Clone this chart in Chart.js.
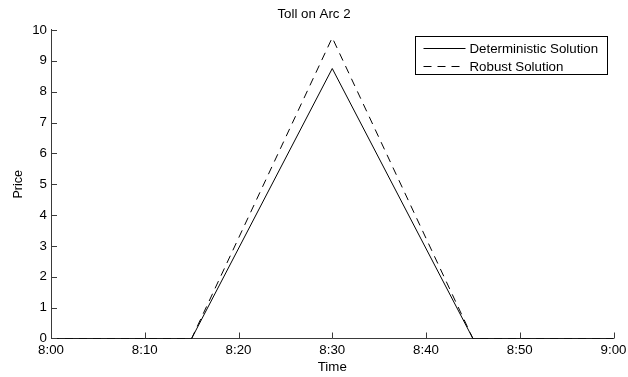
<!DOCTYPE html>
<html>
<head>
<meta charset="utf-8">
<script src="https://cdn.jsdelivr.net/npm/chart.js@4.4.1/dist/chart.umd.min.js"></script>
<style>
html,body{margin:0;padding:0;background:#fff;}
#c{display:block;}
</style>
</head>
<body>
<canvas id="c" width="628" height="377"></canvas>
<script>
// Data (minutes after 8:00)
const times = [0, 15, 30, 45, 60];
const deterministic = [0, 0, 8.75, 0, 0];
const robust = [0, 0, 9.75, 0, 0];
const xTickLabels = ['8:00', '8:10', '8:20', '8:30', '8:40', '8:50', '9:00'];
const seriesNames = ['Deterministic Solution', 'Robust Solution'];
const chartTitle = 'Toll on Arc 2';
const xTitle = 'Time';
const yTitle = 'Price';

const FONT = '"Liberation Sans", Arial, Helvetica, sans-serif';
const NARROW = '"Liberation Sans Narrow", "Liberation Sans", Arial, sans-serif';
const FS = 13.3;
const AXIS = '#3a3a3a';
const DASH = [8, 6];

const toXY = (vals) => times.map((t, i) => ({x: t, y: vals[i]}));

const inwardTicks = {
  id: 'inwardTicks',
  afterDatasetsDraw(chart) {
    const {ctx, chartArea, scales} = chart;
    const L = 6;
    ctx.save();
    ctx.strokeStyle = AXIS;
    ctx.lineWidth = 1;
    ctx.beginPath();
    scales.x.ticks.forEach(t => {
      const px = Math.round(scales.x.getPixelForValue(t.value)) + 0.5;
      ctx.moveTo(px, chartArea.bottom);
      ctx.lineTo(px, chartArea.bottom - L);
    });
    scales.y.ticks.forEach(t => {
      const py = Math.round(scales.y.getPixelForValue(t.value)) + 0.5;
      ctx.moveTo(chartArea.left, py);
      ctx.lineTo(chartArea.left + L, py);
    });
    ctx.stroke();
    ctx.restore();
  }
};

const boxLegend = {
  id: 'boxLegend',
  afterDraw(chart) {
    const {ctx, chartArea} = chart;
    const w = 192, h = 38;
    const x0 = Math.round(chartArea.right - 6.5 - w) + 0.5;
    const y0 = Math.round(chartArea.top + 6.5) + 0.5;
    ctx.save();
    ctx.fillStyle = '#fff';
    ctx.fillRect(x0, y0, w, h);
    ctx.strokeStyle = '#000';
    ctx.lineWidth = 1;
    ctx.strokeRect(x0, y0, w, h);
    ctx.font = FS + 'px ' + FONT;
    ctx.fillStyle = '#000';
    ctx.textBaseline = 'middle';
    chart.data.datasets.forEach((ds, i) => {
      const yy = Math.round(y0 + 11.5 + i * 17.5) + 0.5;
      ctx.beginPath();
      ctx.setLineDash(ds.borderDash || []);
      ctx.strokeStyle = ds.borderColor;
      ctx.moveTo(x0 + 8, yy);
      ctx.lineTo(x0 + 50, yy);
      ctx.stroke();
      ctx.setLineDash([]);
      ctx.fillText(ds.label, x0 + 54, yy + 0.5);
    });
    ctx.restore();
  }
};

new Chart(document.getElementById('c'), {
  type: 'line',
  data: {
    datasets: [
      {label: seriesNames[0], data: toXY(deterministic), borderColor: '#000', borderWidth: 1, pointRadius: 0, tension: 0, fill: false},
      {label: seriesNames[1], data: toXY(robust), borderColor: '#000', borderWidth: 1, borderDash: DASH, pointRadius: 0, tension: 0, fill: false}
    ]
  },
  options: {
    responsive: false,
    animation: false,
    layout: {padding: {left: 0, right: 0, top: 0, bottom: 0}},
    plugins: {
      legend: {display: false},
      tooltip: {enabled: false},
      title: {
        display: true,
        text: chartTitle,
        color: '#000',
        font: {family: FONT, size: FS, weight: 'normal'},
        padding: {top: 6, bottom: 8}
      }
    },
    scales: {
      x: {
        type: 'linear',
        min: 0, max: 60,
        afterFit(s) { s.height = 38.5; s.paddingRight = 14.5; s.paddingLeft = 0; },
        ticks: {
          stepSize: 10,
          color: '#000',
          font: {family: FONT, size: FS},
          padding: 4,
          maxRotation: 0,
          callback: (v) => xTickLabels[Math.round(v / 10)]
        },
        grid: {display: false, drawTicks: false},
        border: {display: true, color: AXIS, width: 1},
        title: {display: true, text: xTitle, color: '#000', font: {family: FONT, size: FS}, padding: {top: 0, bottom: 2}}
      },
      y: {
        type: 'linear',
        min: 0, max: 10,
        afterFit(s) { s.width = 51; },
        ticks: {
          stepSize: 1,
          color: '#000',
          font: {family: FONT, size: FS},
          padding: 4
        },
        grid: {display: false, drawTicks: false},
        border: {display: true, color: AXIS, width: 1},
        title: {display: true, text: yTitle, color: '#000', font: {family: NARROW, size: 12.5}, padding: {top: 11, bottom: 0}}
      }
    }
  },
  plugins: [inwardTicks, boxLegend]
});
</script>
</body>
</html>
